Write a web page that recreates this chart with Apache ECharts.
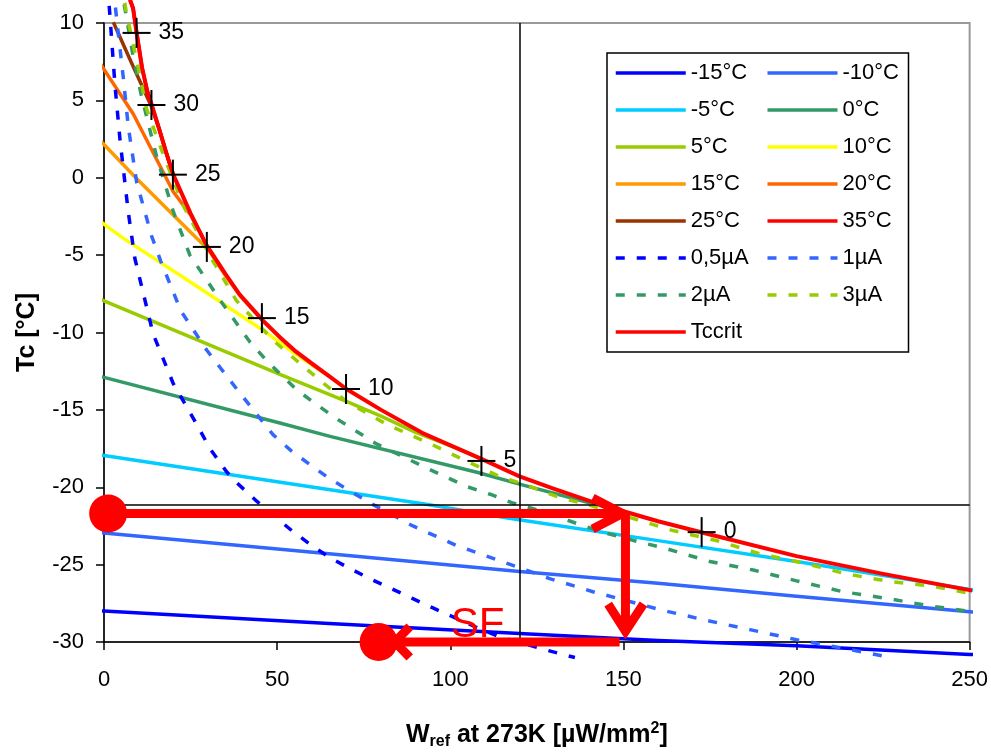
<!DOCTYPE html>
<html><head><meta charset="utf-8">
<script src="https://cdn.jsdelivr.net/npm/echarts@6/dist/echarts.min.js"></script>
<style>html,body{margin:0;padding:0;background:#fff}#c{width:991px;height:755px}</style>
</head><body><div id="c"></div>
<script>
// ---- data (x = W_ref µW/mm², y = Tc °C) ----
const isoM15 = [[-4,-27.95],[0,-28.0],[65,-28.8],[120,-29.45],[160,-29.9],[200,-30.25],[250,-30.8],[255,-30.85]];
const isoM10 = [[-4,-22.85],[0,-22.95],[65,-24.3],[120,-25.45],[160,-26.2],[200,-27.05],[250,-28.04],[255,-28.15]];
const isoM5  = [[-4,-17.8],[0,-17.95],[50,-19.65],[93,-21.1],[117,-22.0],[160,-23.45],[200,-24.8],[250,-26.6],[255,-26.8]];
const iso0   = [[-4,-12.7],[0,-12.9],[50.8,-15.85],[65,-16.7],[108,-19.05],[120,-19.8],[141,-21.05],[150,-21.55]];
const iso5   = [[-4,-7.56],[0,-7.95],[50.8,-12.7],[70,-14.45],[80,-15.4],[90,-16.45],[102.7,-17.55],[109.3,-18.2]];
const iso10  = [[-4,-2.3],[0,-3.0],[5.5,-3.9],[26.7,-7.0],[45.9,-9.85],[55,-11.35],[62,-12.4],[65.2,-12.85],[70,-13.65],[80,-15.0]];
const iso15  = [[-4,3.05],[0,2.15],[9.4,-0.05],[20,-2.4],[26.7,-3.9],[30,-4.6],[35,-6.3],[39.2,-7.6],[46,-9.3],[55,-11.2],[60,-12.05],[65.2,-12.85]];
const iso20  = [[-4,8.4],[0,7.0],[8.5,4.1],[20,-0.9],[25,-2.4],[29.6,-4.35],[35,-6.2]];
const iso25  = [[2.7,10.05],[8,7.4],[13.7,4.6],[16,3.1],[18,1.6],[20,0.2]];
const iso35  = [[7.5,11.5],[8.4,10.95],[9.4,9.4],[11,7.1],[12.5,5.6],[13.8,4.7],[16,3.1],[18,1.6],[20,0.2]];
const cur05  = [[1.5,11.1],[3.2,5.9],[4.6,2.5],[7.0,-2.2],[8.9,-5.2],[14.2,-10.1],[20,-13.3],[26.7,-15.9],[30.6,-17.5],[35.4,-19.0],[38.3,-19.7],[44.1,-20.9],[54.2,-22.8],[59.6,-23.7],[65.2,-24.55],[71,-25.25],[76.7,-25.9],[82.5,-26.5],[89.2,-27.2],[95,-27.8],[106.5,-28.95],[113.4,-29.6],[125.8,-30.4],[132.4,-30.8],[136,-31.0]];
const cur1   = [[3.3,11.0],[3.84,9.91],[5.57,6.47],[7.01,3.3],[9.44,-0.3],[13.77,-3.78],[16.4,-5.4],[22.2,-8.6],[29.7,-11.15],[39.2,-13.9],[48.8,-16.6],[54.1,-17.65],[59.6,-18.55],[65.2,-19.45],[71.5,-20.3],[76.7,-21.0],[89.2,-22.5],[101.7,-23.75],[116.2,-24.9],[128.7,-25.9],[141.2,-26.75],[160.4,-27.9],[173.9,-28.6],[186.5,-29.2],[200,-29.85],[213.4,-30.4],[225,-30.9],[228,-31.0]];
const cur2   = [[5.8,11.2],[6.4,10.5],[8.4,7.86],[10.8,5.3],[15.1,1.45],[20,-2.18],[24.8,-5.0],[33.5,-7.9],[42.1,-10.6],[46.9,-11.8],[55.6,-13.7],[62.3,-14.8],[67,-15.55],[78.7,-17.2],[93.1,-18.75],[104.7,-19.95],[111.5,-20.45],[117.8,-21.0],[125.8,-21.5],[137.3,-22.4],[144,-22.9],[154.8,-23.55],[161.4,-23.9],[175,-24.8],[187.5,-25.35],[200,-26.05],[213.4,-26.75],[226.5,-27.2],[239.5,-27.7],[252.8,-28.1],[255,-28.2]];
const cur3   = [[6.0,11.3],[6.4,10.75],[9.8,7.2],[12.3,4.45],[17.2,1.45],[22.8,-1.76],[27.9,-3.9],[31.5,-5.4],[38.3,-7.95],[48.8,-10.5],[56.6,-12.0],[63.5,-13.3],[70.3,-14.5],[81.8,-15.95],[94.3,-17.2],[102.7,-18.1],[114.2,-19.3],[121.9,-19.85],[131.6,-20.67],[139.3,-21.1],[158.4,-22.4],[164.3,-22.8],[176.8,-23.44],[189.4,-24.3],[202.8,-24.94],[214.4,-25.6],[227,-26.1],[239.5,-26.4],[252.8,-26.97],[255,-27.05]];
const tccrit = [[7.5,11.5],[8.4,10.95],[9.4,9.4],[11,7.1],[12.5,5.6],[13.8,4.7],[16,3.1],[18,1.6],[20,0.2],[25,-2.3],[29.6,-4.35],[35,-6.2],[39.2,-7.55],[46,-9.25],[50.8,-10.3],[55,-11.15],[60,-12.0],[65.2,-12.85],[70,-13.65],[80,-15.0],[92,-16.5],[102.7,-17.55],[109.3,-18.2],[120,-19.3],[130,-20.1],[141,-20.95],[150,-21.55],[160,-22.2],[175,-23.05],[200,-24.45],[225,-25.6],[250,-26.65],[255,-26.85]];
// crosshair markers on Tccrit with their temperature labels
const markerPts = [[9.4,9.36],[13.7,4.7],[19.9,0.2],[29.7,-4.47],[45.6,-9.07],[69.9,-13.65],[109.0,-18.3],[172.6,-22.9]];
const markerLabels = ['35','30','25','20','15','10','5','0'];
// reference lines
const refX = 120, refY = -21.1;
// SF annotation (arrows, dots)
const sfShaft1 = [[1.2,-21.7],[149.5,-21.7]];
const sfHead1  = [[141.1,-20.7],[149.7,-21.7],[141.1,-22.7]];
const sfShaft2 = [[150.6,-21.7],[150.6,-29.2]];
const sfHead2  = [[145.6,-27.55],[150.6,-29.3],[155.8,-27.55]];
const sfShaft3 = [[148.9,-30.0],[80,-30.0]];
const sfHead3  = [[88.3,-29.0],[84.0,-30.0],[88.3,-31.0]];
const sfDots   = [[1.2,-21.7],[79.3,-30.0]];
const sfText   = [[107.9,-28.9]];
const xTicks = [0,50,100,150,200,250];
const yTicks = [-30,-25,-20,-15,-10,-5,0,5,10];

const seriesNames = ['-15°C','-10°C','-5°C','0°C','5°C','10°C','15°C','20°C','25°C','35°C','0,5µA','1µA','2µA','3µA','Tccrit'];
const seriesData  = [isoM15,isoM10,isoM5,iso0,iso5,iso10,iso15,iso20,iso25,iso35,cur05,cur1,cur2,cur3,tccrit];
const seriesColors= ['#0000FF','#3366FF','#00CCFF','#339966','#99CC00','#FFFF00','#FF9900','#FF6600','#993300','#FF0000','#0000FF','#3366FF','#339966','#99CC00','#FF0000'];
const seriesDash  = [false,false,false,false,false,false,false,false,false,false,true,true,true,true,false];

const FONT = 'Liberation Sans, Arial, sans-serif';
const chart = echarts.init(document.getElementById('c'), null, {renderer:'canvas'});

const series = seriesNames.map((n,i)=>({
  type:'line', name:n, data:seriesData[i], symbol:'none', showSymbol:false, clip:false,
  smooth:false,
  lineStyle:{color:seriesColors[i], width: (n==='Tccrit')?4:3.5, type: seriesDash[i]?[9,12]:'solid', join:'round'},
  itemStyle:{color:seriesColors[i]}, z: 3+i*0.01, silent:true
}));

const redLine = d => ({type:'line', data:d, symbol:'none', clip:false, silent:true, z:20,
  lineStyle:{color:'#FF0000', width:9, cap:'butt', join:'miter'}, itemStyle:{color:'#FF0000'}});

series.push(
  {type:'scatter', data:markerPts.map((p,i)=>[p[0],p[1],markerLabels[i]]), symbol:'rect', symbolSize:[28,2], clip:false, silent:true, z:15,
   itemStyle:{color:'#000', opacity:1},
   label:{show:true, position:'right', distance:8, formatter:p=>p.data[2], fontSize:23, color:'#000', opacity:1, fontFamily:FONT},
   markLine:{silent:true, symbol:['none','none'], label:{show:false},
     lineStyle:{color:'#000', width:1.5, type:'solid', opacity:1},
     data:[{xAxis:refX},{yAxis:refY}]}},
  {type:'scatter', data:markerPts, symbol:'rect', symbolSize:[2,30], clip:false, silent:true, z:15, itemStyle:{color:'#000', opacity:1}},
  redLine(sfShaft1), redLine(sfHead1), redLine(sfShaft2), redLine(sfHead2), redLine(sfShaft3), redLine(sfHead3),
  {type:'scatter', data:sfDots, symbol:'circle', symbolSize:38, clip:false, silent:true, z:21, itemStyle:{color:'#FF0000', opacity:1}},
  {type:'scatter', data:sfText, symbolSize:1, clip:false, silent:true, z:21, itemStyle:{color:'transparent', opacity:1},
   label:{show:true, position:'inside', formatter:'SF', fontSize:42, color:'#FF0000', opacity:1, fontFamily:FONT}}
);

chart.setOption({
  animation:false,
  backgroundColor:'#fff',
  textStyle:{fontFamily:FONT, color:'#000'},
  grid:{left:104, right:20, top:23, bottom:108, show:true, borderColor:'#999', borderWidth:2, backgroundColor:'transparent'},
  legend:{
    data:seriesNames, left:607, top:53, width:296, orient:'horizontal',
    padding:[8,4,8,7], itemGap:13, itemWidth:70, itemHeight:14,
    backgroundColor:'#fff', borderColor:'#000', borderWidth:1.5,
    itemStyle:{opacity:0},
    lineStyle:{width:3.5},
    textStyle:{fontSize:22, color:'#000', width:62, lineHeight:24, fontFamily:FONT},
    selectedMode:false
  },
  xAxis:{
    type:'value', min:xTicks[0], max:xTicks[xTicks.length-1], interval:50,
    axisLine:{show:true, onZero:false, lineStyle:{color:'#000', width:1.5}},
    axisTick:{show:true, inside:false, length:8, lineStyle:{color:'#000', width:1.5}},
    axisLabel:{fontSize:22, color:'#000', margin:27, fontFamily:FONT},
    splitLine:{show:false},
    name:'{b|W}{s|ref}{b| at 273K [µW/mm}{p|2}{b|]}',
    nameLocation:'middle', nameGap:78,
    nameTextStyle:{fontFamily:FONT, rich:{
      b:{fontSize:25, fontWeight:'bold', color:'#000', fontFamily:FONT, lineHeight:30},
      s:{fontSize:16, fontWeight:'bold', color:'#000', fontFamily:FONT, lineHeight:30, padding:[14,0,0,0]},
      p:{fontSize:16, fontWeight:'bold', color:'#000', fontFamily:FONT, lineHeight:30, padding:[0,0,12,0]}
    }}
  },
  yAxis:{
    type:'value', min:yTicks[0], max:yTicks[yTicks.length-1], interval:5,
    axisLine:{show:true, onZero:false, lineStyle:{color:'#000', width:1.5}},
    axisTick:{show:true, inside:false, length:8, lineStyle:{color:'#000', width:1.5}},
    axisLabel:{fontSize:22, color:'#000', margin:20, fontFamily:FONT},
    splitLine:{show:false},
    name:'Tc [°C]', nameLocation:'middle', nameGap:64, nameRotate:90,
    nameTextStyle:{fontSize:25, fontWeight:'bold', color:'#000', fontFamily:FONT}
  },
  series:series
});
</script></body></html>
